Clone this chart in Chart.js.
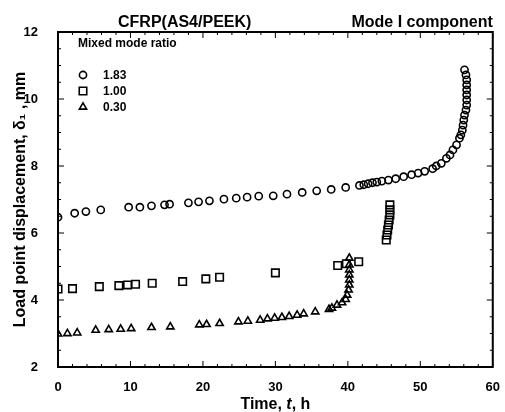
<!DOCTYPE html>
<html>
<head>
<meta charset="utf-8">
<script src="https://cdn.jsdelivr.net/npm/chart.js@4"></script>
<style>
  body { margin: 0; background: #fff; }
  canvas { display: block; }
</style>
</head>
<body>
<canvas id="modeChart" width="505" height="412"></canvas>
<script>
// data: time t (h) and load point displacement (mm)
var ratioLabels = ['1.83', '1.00', '0.30'];

var t183 = [0, 2.3, 3.85, 5.9, 9.75, 11.3, 12.9, 14.7, 15.4, 18, 19.4, 20.9, 22.9, 24.6, 26.1, 27.7, 29.7, 31.6, 33.7,
    35.7, 37.7, 39.7, 41.6, 42.2, 42.8, 43.4, 44.0, 44.7, 45.6, 46.6, 47.7, 48.8, 49.7, 50.6, 51.7, 52.2, 52.9, 53.6,
    54.1, 54.5, 55.0, 55.4, 55.6, 55.8, 55.9, 56.0, 56.1, 56.3, 56.4, 56.4, 56.4, 56.4, 56.4, 56.4, 56.3, 56.1];
var d183 = [6.47, 6.59, 6.64, 6.69, 6.77, 6.77, 6.81, 6.84, 6.86, 6.9, 6.93, 6.96, 7.01, 7.04, 7.07, 7.1, 7.11, 7.16, 7.21,
    7.26, 7.3, 7.36, 7.42, 7.44, 7.47, 7.5, 7.52, 7.55, 7.58, 7.62, 7.68, 7.74, 7.79, 7.84, 7.92, 8.0, 8.08, 8.23,
    8.33, 8.48, 8.63, 8.83, 8.93, 9.07, 9.22, 9.37, 9.52, 9.67, 9.82, 9.97, 10.12, 10.27, 10.42, 10.57, 10.72, 10.87];

var t100 = [0, 2.0, 5.7, 8.4, 9.6, 10.7, 13.0, 17.2, 20.4, 22.3, 30.0, 38.6, 39.8, 41.5,
    45.3, 45.4, 45.5, 45.6, 45.7, 45.8, 45.8, 45.8];
var d100 = [4.33, 4.34, 4.4, 4.43, 4.45, 4.47, 4.5, 4.55, 4.63, 4.68, 4.81, 5.03, 5.08, 5.14,
    5.79, 5.94, 6.09, 6.24, 6.39, 6.54, 6.69, 6.84];

var t030 = [0, 1.3, 2.65, 5.2, 7.0, 8.65, 10.1, 12.9, 15.5, 19.5, 20.5, 22.3, 24.9, 26.2, 27.9, 28.9, 29.9, 30.9,
    31.9, 33.0, 33.9, 35.5, 37.4, 37.8, 38.5, 39.2, 39.7, 39.9, 40.1, 40.2, 40.2, 40.2, 40.2, 40.2, 40.2];
var d030 = [2.99, 3.0, 3.02, 3.1, 3.12, 3.13, 3.15, 3.18, 3.2, 3.26, 3.27, 3.3, 3.35, 3.37, 3.4, 3.44, 3.46, 3.48,
    3.51, 3.55, 3.59, 3.65, 3.72, 3.76, 3.85, 3.92, 4.02, 4.15, 4.3, 4.45, 4.6, 4.75, 4.9, 5.05, 5.25];

var xTicks = [0, 10, 20, 30, 40, 50, 60];
var yTicks = [2, 4, 6, 8, 10, 12];

function pts(xs, ys) {
    return xs.map(function (x, i) { return { x: x, y: ys[i] }; });
}

var FONT = "'Liberation Sans', Arial, sans-serif";

// frame with inward ticks, titles, legend
var decorations = {
    id: 'decorations',
    afterDraw: function (chart) {
        var ctx = chart.ctx;
        var a = chart.chartArea;
        var xs = chart.scales.x, ys = chart.scales.y;
        ctx.save();
        ctx.strokeStyle = '#000';
        ctx.lineWidth = 2;
        ctx.strokeRect(a.left, a.top, a.right - a.left, a.bottom - a.top);

        ctx.lineWidth = 1;
        ctx.beginPath();
        for (var t = 0; t <= 60; t += 2) {
            var px = xs.getPixelForValue(t);
            var len = t % 10 === 0 ? 6 : 3;
            ctx.moveTo(px, a.bottom); ctx.lineTo(px, a.bottom - len);
            ctx.moveTo(px, a.top); ctx.lineTo(px, a.top + len);
        }
        for (var v = 2; v <= 12; v += 0.5) {
            var py = ys.getPixelForValue(v);
            var l2 = v % 2 === 0 ? 6 : 3;
            ctx.moveTo(a.left, py); ctx.lineTo(a.left + l2, py);
            ctx.moveTo(a.right, py); ctx.lineTo(a.right - l2, py);
        }
        ctx.stroke();

        ctx.fillStyle = '#000';
        ctx.textBaseline = 'alphabetic';
        ctx.font = 'bold 16px ' + FONT;
        ctx.textAlign = 'left';
        ctx.fillText('CFRP(AS4/PEEK)', a.left + 60, a.top - 5);
        ctx.textAlign = 'right';
        ctx.fillText('Mode I component', a.right, a.top - 5);

        // x axis title with italic t
        var parts = [['bold 16px ', 'Time, '], ['italic bold 16px ', 't'], ['bold 16px ', ', h']];
        var total = 0;
        parts.forEach(function (p) { ctx.font = p[0] + FONT; total += ctx.measureText(p[1]).width; });
        var cx = (a.left + a.right) / 2 - total / 2;
        ctx.textAlign = 'left';
        parts.forEach(function (p) {
            ctx.font = p[0] + FONT;
            ctx.fillText(p[1], cx, 409);
            cx += ctx.measureText(p[1]).width;
        });

        // y axis title
        ctx.save();
        ctx.translate(25, (a.top + a.bottom) / 2);
        ctx.rotate(-Math.PI / 2);
        ctx.textAlign = 'center';
        ctx.font = 'bold 16px ' + FONT;
        ctx.fillText('Load point displacement, \u03b4\u2081 , mm', 0, 0);
        ctx.restore();

        // legend
        ctx.font = 'bold 12px ' + FONT;
        ctx.textAlign = 'left';
        ctx.textBaseline = 'middle';
        ctx.fillText('Mixed mode ratio', a.left + 20, a.top + 12);
        chart.data.datasets.forEach(function (ds, i) {
            var ly = a.top + 43 + i * 16;
            ctx.lineWidth = 1.6;
            ctx.strokeStyle = '#000';
            ctx.fillStyle = '#fff';
            Chart.helpers.drawPoint(ctx, {
                pointStyle: ds.pointStyle,
                radius: ds.pointStyle === 'rect' ? 5.3 : (ds.pointStyle === 'triangle' ? 4.2 : 3.6),
                borderWidth: 1.6
            }, a.left + 25, ly);
            ctx.fillStyle = '#000';
            ctx.fillText(ds.label, a.left + 45, ly + 1);
        });
        ctx.restore();
    }
};

function series(label, data, style, r) {
    return {
        label: label,
        data: data,
        showLine: false,
        pointStyle: style,
        pointRadius: r,
        pointHoverRadius: r,
        pointBorderWidth: 1.6,
        borderColor: '#000',
        backgroundColor: 'rgba(0,0,0,0)'
    };
}

var ctx = document.getElementById('modeChart').getContext('2d');
var chart = new Chart(ctx, {
    type: 'scatter',
    data: {
        datasets: [
            series(ratioLabels[0], pts(t183, d183), 'circle', 3.6),
            series(ratioLabels[1], pts(t100, d100), 'rect', 5.3),
            series(ratioLabels[2], pts(t030, d030), 'triangle', 4.2)
        ]
    },
    options: {
        responsive: false,
        animation: false,
        layout: { padding: { top: 32, right: 9, left: 0, bottom: 0 } },
        plugins: { legend: { display: false }, tooltip: { enabled: false } },
        scales: {
            x: {
                type: 'linear', min: 0, max: 60,
                afterBuildTicks: function (s) { s.ticks = xTicks.map(function (v) { return { value: v }; }); },
                afterFit: function (s) { s.height = 45; },
                grid: { display: false },
                border: { display: false },
                ticks: { color: '#000', padding: 5, maxRotation: 0, font: { family: FONT, size: 13, weight: 'bold' } }
            },
            y: {
                type: 'linear', min: 2, max: 12,
                afterBuildTicks: function (s) { s.ticks = yTicks.map(function (v) { return { value: v }; }); },
                afterFit: function (s) { s.width = 58; },
                grid: { display: false },
                border: { display: false },
                ticks: { color: '#000', padding: 12, font: { family: FONT, size: 13, weight: 'bold' } }
            }
        }
    },
    plugins: [decorations]
});
</script>
</body>
</html>
